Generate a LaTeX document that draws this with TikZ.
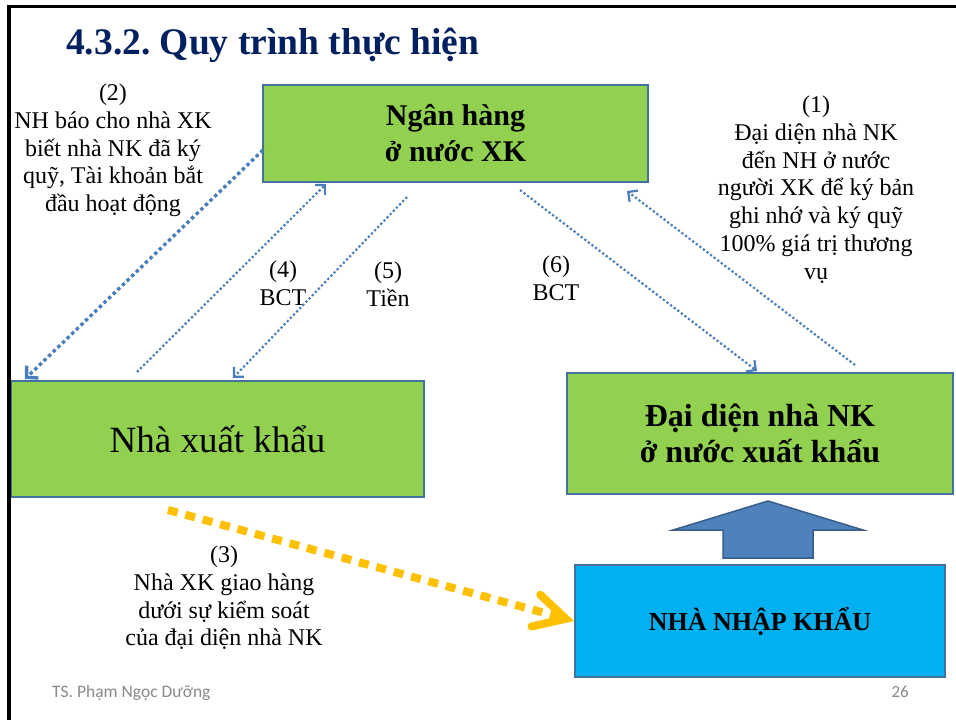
\documentclass[tikz,border=0pt]{standalone}
\usepackage{fontspec}
\setmainfont{Liberation Serif}
\newfontfamily\footfont{Carlito}
\usetikzlibrary{arrows.meta}
\frenchspacing
\definecolor{boxgreen}{HTML}{92D050}
\definecolor{boxedge}{HTML}{41719C}
\definecolor{nkblue}{HTML}{00B0F0}
\definecolor{flowblue}{HTML}{4A7EBB}
\definecolor{goldline}{HTML}{FFC000}
\definecolor{titlenavy}{HTML}{002060}
\definecolor{footgray}{HTML}{8A8A8A}
\definecolor{blockfill}{HTML}{4F81BD}
\definecolor{blockedge}{HTML}{385D8A}
\tikzset{
  actorbox/.style={draw=boxedge, line width=2pt, fill=boxgreen, align=center, inner sep=0pt},
  importbox/.style={actorbox, fill=nkblue},
  steplabel/.style={align=center, anchor=north, inner sep=0pt,
    font=\fontsize{24}{27.7}\selectfont},
  flowthick/.style={draw=flowblue, line width=3.4pt, dash pattern=on 3.4pt off 3pt,
    -{Straight Barb[length=8pt,width=17pt]}},
  flowthin/.style={draw=flowblue, line width=2.2pt, dash pattern=on 2.2pt off 2.3pt,
    -{Straight Barb[length=7pt,width=14pt]}},
  goodsflow/.style={draw=goldline, line width=8pt, dash pattern=on 10pt off 8pt,
    -{Straight Barb[length=31pt,width=33pt,line cap=round]}},
}
\begin{document}
\begin{tikzpicture}[x=1pt,y=-1pt]
\useasboundingbox (0,0) rectangle (956,720);
\fill[white] (0,0) rectangle (956,720);

% title
\node[anchor=base west, inner sep=0pt, text=titlenavy,
  font=\fontsize{37.5}{40}\selectfont\bfseries] (title) at (66,54)
  {4.3.2. Quy trình thực hiện};

% parties
\node[actorbox, minimum width=385pt, minimum height=97pt,
  font=\fontsize{30}{36}\selectfont\bfseries] (bank) at (455.5,133.5)
  {Ngân hàng\\ở nước XK};
\node[actorbox, minimum width=413pt, minimum height=116pt,
  font=\fontsize{37}{40}\selectfont] (xk) at (217.5,439)
  {Nhà xuất khẩu};
\node[actorbox, minimum width=386pt, minimum height=121pt,
  font=\fontsize{32}{36}\selectfont\bfseries] (dd) at (760,433.5)
  {Đại diện nhà NK\\ở nước xuất khẩu};
\node[importbox, minimum width=370pt, minimum height=112pt,
  font=\fontsize{26}{30}\selectfont\bfseries] (nnk) at (760,621)
  {NHÀ NHẬP KHẨU};

% block arrow from the importer up to its representative
\filldraw[fill=blockfill, draw=blockedge, line width=1.5pt]
  (768,501) -- (863,530) -- (813,530) -- (813,558) -- (723,558)
  -- (723,530) -- (673,530) -- cycle;

% connector end points
\coordinate (s2) at (263,150);   \coordinate (e2) at (25,379);
\coordinate (s4) at (137,372);   \coordinate (e4) at (326,184);
\coordinate (s5) at (407,197);   \coordinate (e5) at (233,378);
\coordinate (s6) at (520,190);   \coordinate (e6) at (757,371);
\coordinate (s1) at (855,365);   \coordinate (e1) at (627,191);
\coordinate (s3) at (168,510);

% flows
\draw[flowthick] (s2) -- (e2);
\draw[flowthin] (s4) -- (e4);
\draw[flowthin] (s5) -- (e5);
\draw[flowthin] (s6) -- (e6);
\draw[flowthin] (s1) -- (e1);
\draw[goodsflow] (s3) -- (nnk.west);

% step labels
\node[steplabel] (l1) at (816,96)
  {(1)\\Đại diện nhà NK\\đến NH ở nước\\người XK để ký bản\\ghi nhớ và ký quỹ\\100\% giá trị thương\\vụ};
\node[steplabel] (l2) at (113,84)
  {(2)\\NH báo cho nhà XK\\biết nhà NK đã ký\\quỹ, Tài khoản bắt\\đầu hoạt động};
\node[steplabel] (l3) at (224,546)
  {(3)\\Nhà XK giao hàng\\dưới sự kiểm soát\\của đại diện nhà NK};
\node[steplabel] (l4) at (283,261) {(4)\\BCT};
\node[steplabel] (l5) at (388,262) {(5)\\Tiền};
\node[steplabel] (l6) at (556,256) {(6)\\BCT};

% footer
\node[anchor=base west, inner sep=0pt, text=footgray,
  font=\footfont\fontsize{17.5}{20}\selectfont] (author) at (52,697)
  {TS. Phạm Ngọc Dưỡng};
\node[anchor=base east, inner sep=0pt, text=footgray,
  font=\footfont\fontsize{17}{20}\selectfont] (page) at (909,697) {26};

% slide frame
\draw[line width=3.3pt] (9,720) -- (9,6.3) -- (956,6.3);
\end{tikzpicture}
\end{document}
